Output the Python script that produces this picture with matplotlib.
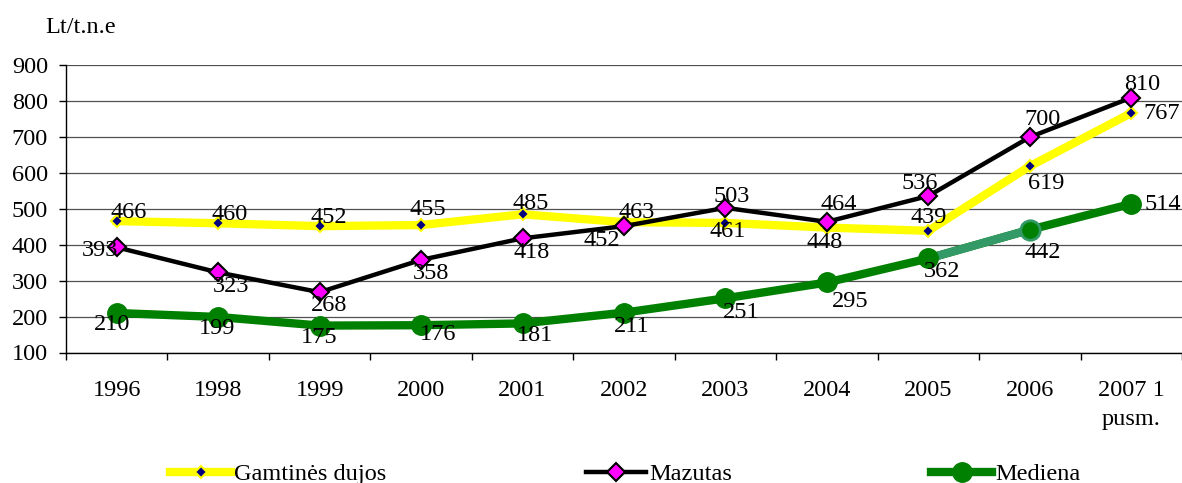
import numpy as np
import matplotlib
matplotlib.use('Agg')
import matplotlib.pyplot as plt

# data
years = ['1996', '1998', '1999', '2000', '2001', '2002', '2003', '2004',
         '2005', '2006', '2007 1\npusm.']
gamtines = [466, 460, 452, 455, 485, 463, 461, 448, 439, 619, 767]
mazutas = [393, 323, 268, 358, 418, 452, 503, 464, 536, 700, 810]
mediena = [210, 199, 175, 176, 181, 211, 251, 295, 362, 442, 514]

# label offsets in pixels (dx, dy), dy positive = downwards
off_gam = [(12, -9), (11, -9), (9, -9), (7, -16), (8, -11), (13, -10),
           (2, 9), (-2, 15), (0, -13), (16, 17), (30, 0)]
off_maz = [(-17, 3), (13, 14), (9, 13), (10, 14), (9, 14), (-22, 14),
           (6, -11), (12, -17), (-9, -12), (13, -18), (11, -13)]
off_med = [(-5, 11), (-1, 12), (0, 12), (17, 9), (12, 12), (8, 14),
           (16, 14), (23, 19), (14, 13), (13, 23), (31, 1)]

plt.rcParams['font.family'] = ['Liberation Serif', 'DejaVu Serif']
FS = 17.5

W, H = 1182, 483
fig = plt.figure(figsize=(W / 100, H / 100), dpi=100)
ax = fig.add_axes([66 / W, 1 - 352.5 / H, (W - 66) / W, (352.5 - 65.3) / H])

x = np.arange(len(years))

# Gamtines dujos
l_gam, = ax.plot(x, gamtines, color='#ffff00', lw=6, marker='D', ms=6.5,
                 mfc='#000080', mec='#ffff00', mew=1.5, zorder=3,
                 label='Gamtinės dujos')
# Mazutas
l_maz, = ax.plot(x, mazutas, color='black', lw=3.2, marker='D', ms=9,
                 mfc='#ff00ff', mec='black', mew=1.5, zorder=4,
                 label='Mazutas')
# Mediena (2005-2006 segment drawn lighter, as in the original)
ax.plot(x, mediena, color='#008000', lw=6, zorder=2, solid_capstyle='round')
ax.plot(x[8:10], mediena[8:10], color='#339966', lw=6, zorder=2)
ax.plot(x, mediena, ls='none', marker='o', ms=14, mfc='#008000',
        mec='#008000', zorder=2.5)
ax.plot(x[9:10], mediena[9:10], ls='none', marker='o', ms=14,
        mfc='#008000', mec='#339966', mew=2, zorder=2.6)
l_med, = ax.plot([], [], color='#008000', lw=6, marker='o', ms=14,
                 mfc='#008000', mec='#008000', label='Mediena')

for vals, offs in [(gamtines, off_gam), (mazutas, off_maz), (mediena, off_med)]:
    for i, v in enumerate(vals):
        dx, dy = offs[i]
        ax.annotate(str(v), (x[i], v), xytext=(dx * 0.72, -dy * 0.72),
                    textcoords='offset points', ha='center', va='center',
                    fontsize=FS, zorder=6)

ax.set_ylim(100, 900)
ax.set_xlim(-0.5, len(years) - 0.5)
ax.set_yticks(np.arange(100, 901, 100))
ax.tick_params(axis='y', labelsize=FS, length=5, width=1, pad=8)
ax.yaxis.grid(True, color='#505050', lw=0.9)
ax.set_axisbelow(True)

# tick marks between categories, labels at the centres
ax.set_xticks(np.arange(-0.5, len(years), 1.0))
ax.set_xticklabels([])
ax.tick_params(axis='x', which='major', length=5, width=1)
ax.set_xticks(x, minor=True)
ax.set_xticklabels(years, minor=True, fontsize=FS, linespacing=1.5)
ax.tick_params(axis='x', which='minor', length=0, pad=20)

for s in ['top', 'right']:
    ax.spines[s].set_visible(False)
ax.spines['left'].set_linewidth(1)
ax.spines['bottom'].set_linewidth(1)

fig.text(45 / W, 1 - 33 / H, 'Lt/t.n.e', fontsize=FS, va='baseline', ha='left')

fig.legend(handles=[l_gam, l_maz, l_med], loc='center', ncol=3,
           bbox_to_anchor=(0.529, 1 - 474 / H), frameon=False, fontsize=FS,
           handlelength=2.5, handletextpad=0.12, columnspacing=8.2,
           numpoints=1, borderpad=0)

fig.savefig('out.png', dpi=100)
